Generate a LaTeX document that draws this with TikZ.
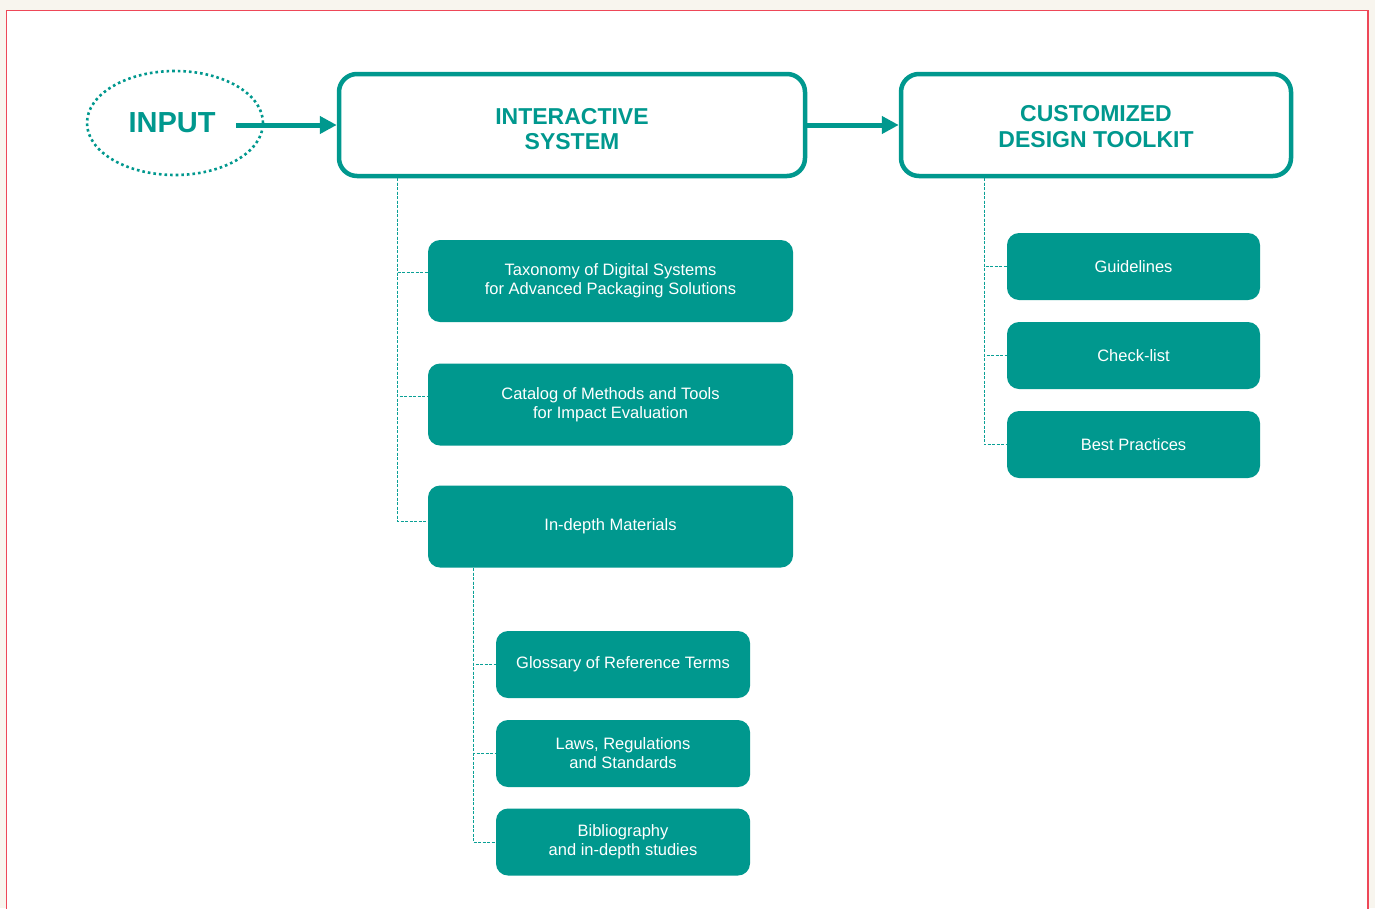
\documentclass[tikz,border=0pt]{standalone}
\usepackage{fontspec}
\setmainfont{Liberation Sans}
\usetikzlibrary{arrows.meta,shapes.geometric}
\definecolor{tealc}{RGB}{0,152,142}
\definecolor{treec}{RGB}{10,160,150}
\definecolor{framec}{RGB}{238,72,88}
\definecolor{beigec}{RGB}{248,245,238}
\begin{document}
\begin{tikzpicture}[x=1pt,y=-1pt,
  bigbox/.style={draw=tealc, line width=4.5pt, rounded corners=18pt, fill=white,
    minimum height=102pt, inner sep=0pt, text=tealc, align=center,
    font=\bfseries\fontsize{23}{25.5}\selectfont},
  leafbox/.style={fill=tealc, rounded corners=12pt, inner sep=0pt, text=white,
    align=center, font=\fontsize{16.5}{19}\selectfont},
  bigleaf/.style={leafbox, minimum width=365pt, minimum height=82pt},
  smallleaf/.style={leafbox, minimum width=254pt, minimum height=67pt},
  flowarrow/.style={draw=tealc, line width=5pt, -{Triangle[length=17pt,width=17pt]}},
  treeline/.style={draw=treec, line width=1pt, dash pattern=on 3pt off 1.5pt},
  inputell/.style={ellipse, draw=tealc, line width=2.6pt, dash pattern=on 2.6pt off 3pt,
    minimum width=176pt, minimum height=104pt, inner sep=0pt, text=tealc,
    font=\bfseries\fontsize{29}{30}\selectfont}
]
\useasboundingbox (0,0) rectangle (1375,908);
\fill[beigec] (0,0) rectangle (1375,908);
\fill[white] (6.5,10.5) rectangle (1368,910);
\draw[framec, line width=1.6pt] (6.5,912) -- (6.5,10.5) -- (1368,10.5) -- (1368,912);

% main row
\node[inputell] (input) at (175,123) {};
\node[text=tealc, font=\bfseries\fontsize{29}{30}\selectfont] (inputtxt) at (172,123) {INPUT};
\node[bigbox, minimum width=466pt, text height=50pt] (is) at (572,125) {INTERACTIVE\\SYSTEM};
\node[bigbox, minimum width=390pt, text height=45pt] (cdt) at (1096,125) {CUSTOMIZED\\DESIGN TOOLKIT};

\coordinate (a0) at (236,125);
\draw[flowarrow] (a0) -- (is.west);
\draw[flowarrow] (is.east) -- (cdt.west);

% interactive system children
\node[bigleaf] (tax) at (610.5,281) {Taxonomy of Digital Systems\\for Advanced Packaging Solutions};
\node[bigleaf] (cat) at (610.5,404.5) {Catalog of Methods and Tools\\for Impact Evaluation};
\node[bigleaf] (ind) at (610.5,526.5) {In-depth Materials};

\coordinate (t1) at (397,178);
\draw[treeline] (t1) |- ([yshift=5.5pt]ind.west);
\draw[treeline] (t1) |- ([yshift=8.5pt]cat.west);
\draw[treeline] (t1) |- ([yshift=9pt]tax.west);

% in-depth children
\node[smallleaf] (glo) at (623,664.5) {Glossary of Reference Terms};
\node[smallleaf] (law) at (623,753.5) {Laws, Regulations\\and Standards};
\node[smallleaf] (bib) at (623,842) {Bibliography\\and in-depth studies};

\coordinate (t2) at (473,568);
\draw[treeline] (t2) |- (bib.west);
\draw[treeline] (t2) |- (law.west);
\draw[treeline] (t2) |- (glo.west);

% toolkit children
\node[smallleaf, minimum width=253pt] (gui) at (1133.5,266.5) {Guidelines};
\node[smallleaf, minimum width=253pt] (chk) at (1133.5,355.5) {Check-list};
\node[smallleaf, minimum width=253pt] (bp) at (1133.5,444.5) {Best Practices};

\coordinate (t3) at (984,178);
\draw[treeline] (t3) |- (bp.west);
\draw[treeline] (t3) |- (chk.west);
\draw[treeline] (t3) |- (gui.west);
\end{tikzpicture}
\end{document}
